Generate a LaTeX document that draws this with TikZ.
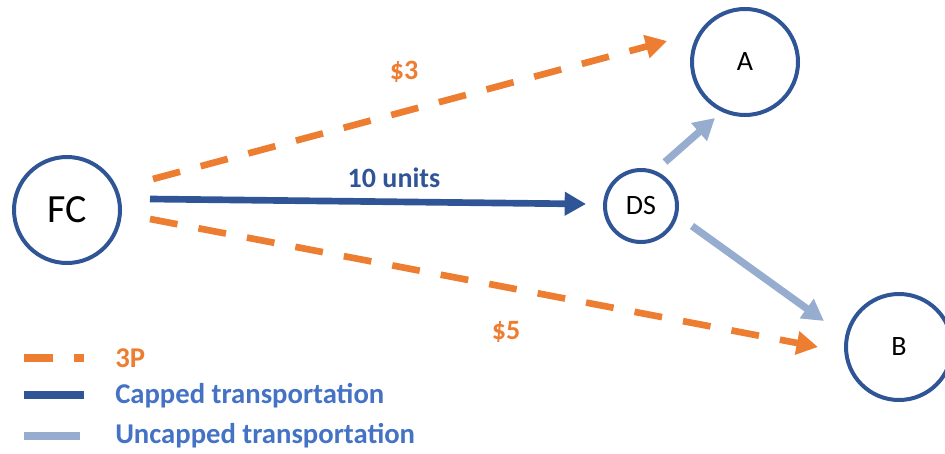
\documentclass[tikz,border=0pt]{standalone}
\usepackage{fontspec}
\setmainfont{Carlito}
\usetikzlibrary{arrows.meta,calc}
\definecolor{cOrange}{HTML}{ED7D31}
\definecolor{cDark}{HTML}{2F5597}
\definecolor{cLight}{HTML}{97ADD0}
\definecolor{cText}{HTML}{4472C4}
\tikzset{
  place/.style={circle,draw=cDark,line width=3pt,inner sep=0pt,text=black},
  big/.style={place,minimum size=79.5pt},
  tp/.style={line width=5pt,cOrange,dash pattern=on 21pt off 16pt,-{Triangle[length=16pt,width=17pt]}},
  capped/.style={line width=5pt,cDark,-{Triangle[length=16pt,width=17pt]}},
  uncapped/.style={line width=5.5pt,cLight,-{Triangle[length=16pt,width=17pt]}},
  lbl/.style={font=\bfseries\fontsize{21}{25}\selectfont,inner sep=0pt},
  leg/.style={font=\bfseries\fontsize{21.5}{26}\selectfont,text=cText,anchor=west,inner sep=0pt},
}
\begin{document}
\begin{tikzpicture}[x=0.75pt,y=-0.75pt]
\useasboundingbox (0,0) rectangle (945,453);
\node[big,font=\fontsize{30}{36}\selectfont] (FC) at (67,210) {FC};
\node[place,minimum size=54pt,font=\fontsize{21}{25}\selectfont] (DS) at (641,206) {DS};
\node[big,font=\fontsize{21}{25}\selectfont] (A) at (745,62) {A};
\node[big,font=\fontsize{21}{25}\selectfont] (B) at (899,347) {B};
\draw[tp] ($(FC)+(86,-31)$) -- ($(A)+(-78,-21)$);
\draw[tp] ($(FC)+(83,9)$) -- ($(B)+(-81,0)$);
\draw[capped] ($(FC)+(83,-11)$) -- ($(DS)+(-55,-2)$);
\draw[uncapped] ($(DS)+(24,-44)$) -- ($(A)+(-30,56)$);
\draw[uncapped] ($(DS)+(51,20)$) -- ($(B)+(-75,-26)$);
\node[lbl,text=cOrange] (l3) at (404,72) {\$3};
\node[lbl,text=cDark] (l10) at (394,178) {10 units};
\node[lbl,text=cOrange] (l5) at (506,332) {\$5};
% legend
\coordinate (o1) at (24,358); \coordinate (o2) at (84,358);
\coordinate (b1) at (24,395); \coordinate (b2) at (84,395);
\coordinate (u1) at (24,436); \coordinate (u2) at (80,436);
\draw[line width=6pt,cOrange,dash pattern=on 21.75pt off 15.75pt] (o1) -- (o2);
\draw[line width=6pt,cDark] (b1) -- (b2);
\draw[line width=5.5pt,cLight] (u1) -- (u2);
\node[leg,text=cOrange] (t1) at (115,358) {3P};
\node[leg] (t2) at (115,396) {Capped transportation};
\node[leg] (t3) at (115,436) {Uncapped transportation};
\end{tikzpicture}
\end{document}
